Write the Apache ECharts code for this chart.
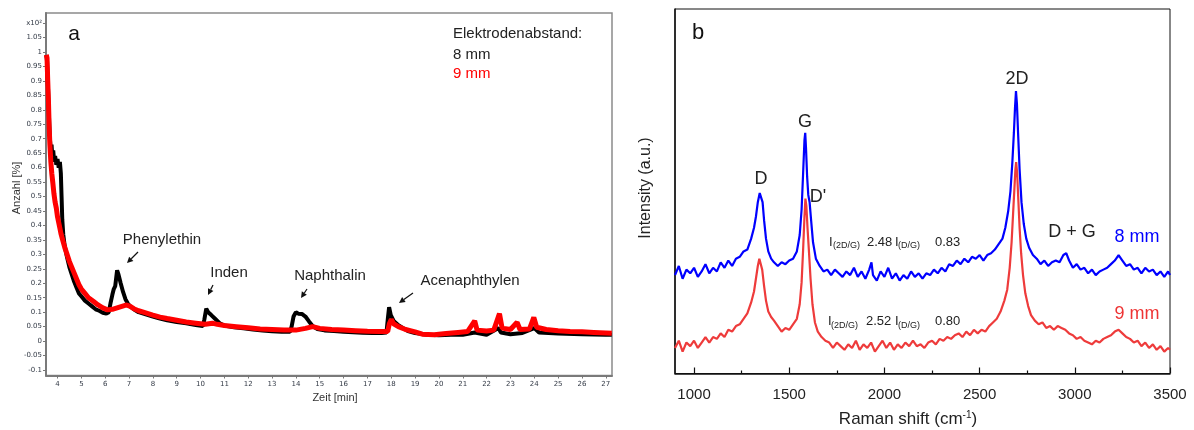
<!DOCTYPE html>
<html>
<head>
<meta charset="utf-8">
<script src="https://cdn.jsdelivr.net/npm/echarts@6/dist/echarts.min.js"></script>
<style>
  html, body { margin: 0; padding: 0; background: #fff; }
  #chart { width: 1194px; height: 430px; }
</style>
</head>
<body>
<div id="chart"></div>
<script>
// ---- panel a: GC counts over time, [min, count x10^2 %] ----
const time8mm = [
  [3.53, 0.99], [3.56, 0.97], [3.60, 0.88], [3.64, 0.78], [3.68, 0.70], [3.72, 0.66], [3.75, 0.68],
  [3.78, 0.64], [3.82, 0.66], [3.86, 0.62], [3.90, 0.64], [3.95, 0.61], [4.00, 0.63], [4.05, 0.60],
  [4.10, 0.62], [4.14, 0.58], [4.17, 0.50], [4.20, 0.42], [4.24, 0.37], [4.30, 0.33], [4.40, 0.29],
  [4.50, 0.255], [4.60, 0.23], [4.70, 0.205], [4.80, 0.185], [4.90, 0.165], [5.00, 0.155], [5.15, 0.14],
  [5.30, 0.13], [5.45, 0.12], [5.60, 0.11], [5.75, 0.105], [5.90, 0.098], [6.05, 0.095], [6.15, 0.10],
  [6.22, 0.13], [6.30, 0.16], [6.36, 0.18], [6.42, 0.19], [6.50, 0.245], [6.56, 0.23], [6.65, 0.20],
  [6.75, 0.17], [6.85, 0.145], [6.95, 0.13], [7.05, 0.12], [7.2, 0.11], [7.4, 0.10], [7.6, 0.095],
  [7.8, 0.09], [8.0, 0.085], [8.3, 0.078], [8.6, 0.072], [9.0, 0.066], [9.4, 0.062], [9.8, 0.056],
  [10.1, 0.052], [10.16, 0.075], [10.24, 0.112], [10.32, 0.10], [10.45, 0.09], [10.6, 0.078],
  [10.8, 0.062], [11.0, 0.054], [11.4, 0.048], [11.8, 0.044], [12.2, 0.04], [12.6, 0.037], [13.0, 0.034],
  [13.4, 0.032], [13.75, 0.032], [13.82, 0.05], [13.9, 0.085], [14.0, 0.10], [14.1, 0.095], [14.25, 0.094],
  [14.4, 0.085], [14.55, 0.068], [14.7, 0.052], [14.9, 0.042], [15.2, 0.037], [15.6, 0.035], [16.0, 0.032],
  [16.4, 0.031], [16.8, 0.029], [17.2, 0.028], [17.6, 0.028], [17.8, 0.03], [17.86, 0.08], [17.91, 0.117],
  [17.98, 0.09], [18.1, 0.07], [18.3, 0.055], [18.5, 0.045], [18.7, 0.035], [19.0, 0.028], [19.5, 0.022],
  [20.0, 0.02], [20.5, 0.022], [21.0, 0.022], [21.5, 0.03], [22.0, 0.022], [22.5, 0.045], [22.6, 0.03],
  [23.0, 0.024], [23.5, 0.028], [24.0, 0.045], [24.2, 0.03], [25.0, 0.026], [26.0, 0.024], [27.0, 0.022],
  [27.25, 0.022]
];
const time9mm = [
  [3.53, 0.99], [3.56, 0.98], [3.59, 0.90], [3.62, 0.83], [3.65, 0.74], [3.68, 0.68], [3.72, 0.62],
  [3.76, 0.58], [3.80, 0.55], [3.85, 0.51], [3.90, 0.48], [3.95, 0.46], [4.00, 0.43], [4.05, 0.41],
  [4.10, 0.39], [4.15, 0.37], [4.20, 0.355], [4.3, 0.325], [4.4, 0.30], [4.5, 0.275], [4.6, 0.255],
  [4.7, 0.235], [4.8, 0.215], [4.9, 0.195], [5.0, 0.18], [5.15, 0.165], [5.3, 0.15], [5.5, 0.138],
  [5.7, 0.125], [5.9, 0.115], [6.1, 0.108], [6.3, 0.11], [6.5, 0.115], [6.7, 0.12], [6.9, 0.125],
  [7.05, 0.12], [7.2, 0.112], [7.4, 0.105], [7.6, 0.10], [7.8, 0.095], [8.0, 0.09], [8.3, 0.083],
  [8.6, 0.078], [9.0, 0.072], [9.4, 0.066], [9.8, 0.062], [10.2, 0.058], [10.5, 0.062], [10.7, 0.058],
  [11.0, 0.054], [11.5, 0.05], [12.0, 0.046], [12.5, 0.042], [13.0, 0.04], [13.5, 0.038], [14.0, 0.038],
  [14.4, 0.044], [14.7, 0.05], [15.0, 0.044], [15.5, 0.04], [16.0, 0.038], [16.5, 0.036], [17.0, 0.034],
  [17.5, 0.033], [17.85, 0.033], [17.92, 0.06], [18.0, 0.075], [18.1, 0.06], [18.3, 0.05], [18.6, 0.04],
  [19.0, 0.032], [19.3, 0.024], [19.8, 0.022], [20.3, 0.026], [20.8, 0.03], [21.2, 0.033], [21.5, 0.07],
  [21.6, 0.038], [22.0, 0.035], [22.3, 0.038], [22.54, 0.095], [22.65, 0.045], [23.0, 0.04], [23.28, 0.065],
  [23.4, 0.04], [23.8, 0.042], [23.98, 0.082], [24.1, 0.048], [24.5, 0.04], [25.0, 0.036], [25.5, 0.033],
  [26.0, 0.032], [26.5, 0.03], [27.0, 0.028], [27.25, 0.027]
];
const timeTicks = [4, 5, 6, 7, 8, 9, 10, 11, 12, 13, 14, 15, 16, 17, 18, 19, 20, 21, 22, 23, 24, 25, 26, 27];
const countTicks = [-0.1, -0.05, 0, 0.05, 0.1, 0.15, 0.2, 0.25, 0.3, 0.35, 0.4, 0.45, 0.5, 0.55, 0.6,
  0.65, 0.7, 0.75, 0.8, 0.85, 0.9, 0.95, 1, 1.05, 1.1];

// ---- panel b: Raman spectra, [shift cm-1, intensity a.u.] ----
const raman8mm = [
  [900, 27], [920, 29.5], [940, 26], [960, 28.5], [980, 27.5], [1000, 29], [1020, 26.5], [1040, 28],
  [1060, 30], [1080, 27.5], [1100, 29], [1120, 28], [1140, 30.5], [1160, 29], [1180, 31], [1200, 29.5],
  [1220, 31.5], [1240, 32], [1260, 33.5], [1280, 34], [1300, 37], [1315, 40], [1325, 43], [1335, 47],
  [1345, 49.5], [1352, 50], [1360, 47], [1368, 42], [1378, 37], [1390, 33.5], [1405, 31.5], [1420, 30.5],
  [1440, 29.5], [1460, 30.5], [1480, 30], [1500, 31], [1520, 31.5], [1540, 33.5], [1555, 38], [1565, 45],
  [1573, 55], [1580, 64], [1584, 66], [1588, 62], [1594, 54], [1600, 49], [1607, 47], [1615, 42],
  [1625, 36], [1640, 31.5], [1660, 29.5], [1680, 28], [1700, 28.5], [1720, 27], [1740, 28.5], [1760, 27.5],
  [1780, 26.5], [1800, 28], [1820, 27], [1840, 29], [1860, 26.5], [1880, 28], [1900, 26], [1920, 28.5],
  [1932, 30.5], [1940, 27], [1960, 25.5], [1980, 28], [2000, 26.5], [2020, 29], [2040, 26], [2060, 27.5],
  [2080, 25.5], [2100, 27], [2120, 26], [2140, 28], [2160, 26.5], [2180, 27.5], [2200, 26], [2220, 27.5],
  [2240, 27], [2260, 28.5], [2280, 27.5], [2300, 29], [2320, 28], [2340, 30], [2360, 29.5], [2380, 31],
  [2400, 30], [2420, 31.5], [2440, 30.5], [2460, 32], [2480, 31.5], [2500, 32.5], [2520, 31], [2540, 32.5],
  [2560, 33], [2580, 34], [2600, 35.5], [2620, 37], [2635, 40], [2650, 44.5], [2662, 50], [2672, 58],
  [2680, 66], [2686, 73], [2691, 77.5], [2696, 74], [2702, 66], [2710, 56], [2720, 47], [2732, 41],
  [2745, 37], [2760, 34.5], [2780, 32.5], [2800, 31.5], [2820, 30], [2840, 31], [2860, 29.5], [2880, 30.5],
  [2900, 31], [2920, 30.5], [2940, 32.5], [2955, 33], [2970, 31], [2990, 29], [3010, 30], [3030, 28.5],
  [3050, 29], [3070, 27.5], [3090, 28.5], [3110, 27], [3130, 28], [3150, 28.5], [3170, 29], [3190, 30],
  [3210, 31], [3230, 32.5], [3250, 31], [3270, 29.5], [3290, 30], [3310, 28.5], [3330, 29], [3350, 27.5],
  [3370, 29], [3390, 28], [3410, 28.5], [3430, 27], [3450, 28], [3470, 26.5], [3490, 28], [3500, 27]
];
const raman9mm = [
  [900, 7], [920, 9], [940, 6], [960, 8.5], [980, 7.5], [1000, 9], [1020, 7], [1040, 8.5], [1060, 10],
  [1080, 8.5], [1100, 10], [1120, 9.5], [1140, 11], [1160, 10], [1180, 12], [1200, 11.5], [1220, 13],
  [1240, 13.5], [1260, 15], [1280, 16.5], [1300, 19.5], [1315, 22.5], [1325, 26], [1335, 29.5],
  [1343, 31.5], [1350, 31], [1358, 28.5], [1368, 24], [1378, 20], [1390, 17], [1405, 15.5], [1420, 14.5],
  [1440, 13], [1460, 11.5], [1480, 12.5], [1500, 12], [1520, 13.5], [1540, 15], [1555, 19], [1565, 25],
  [1573, 34], [1580, 43], [1585, 48], [1590, 46], [1596, 40], [1603, 34], [1612, 26], [1622, 19],
  [1635, 14], [1650, 11.5], [1670, 10], [1690, 9], [1710, 8.5], [1730, 7], [1750, 8.5], [1770, 7.5],
  [1790, 6.5], [1810, 8], [1830, 7], [1850, 9], [1870, 6.5], [1890, 8], [1910, 7], [1930, 8.5], [1950, 6],
  [1970, 7.5], [1990, 9], [2010, 7], [2030, 8.5], [2050, 6.5], [2070, 8], [2090, 7], [2110, 8.5],
  [2130, 7.5], [2150, 9], [2170, 7.5], [2190, 8], [2210, 7], [2230, 8.5], [2250, 9], [2270, 8], [2290, 9.5],
  [2310, 9], [2330, 10], [2350, 9.5], [2370, 10.5], [2390, 11], [2410, 10], [2430, 11.5], [2450, 10.5],
  [2470, 12], [2490, 11], [2510, 12], [2530, 11.5], [2550, 13], [2570, 14], [2590, 15], [2610, 17],
  [2630, 20], [2645, 23], [2658, 29], [2668, 36], [2676, 44], [2683, 51], [2688, 56], [2692, 58],
  [2697, 55], [2703, 48], [2710, 40], [2718, 33], [2728, 27], [2740, 22], [2755, 18.5], [2770, 16],
  [2790, 14.5], [2810, 13.5], [2830, 14], [2850, 12.5], [2870, 13], [2890, 12], [2910, 13], [2930, 12.5],
  [2950, 12], [2970, 11], [2990, 10.5], [3010, 9.5], [3030, 10], [3050, 9], [3070, 8.5], [3090, 8],
  [3110, 9], [3130, 8.5], [3150, 9.5], [3170, 10], [3190, 10.5], [3210, 11.5], [3230, 12], [3250, 11],
  [3270, 10], [3290, 9.5], [3310, 8.5], [3330, 9], [3350, 7.5], [3370, 8.5], [3390, 7], [3410, 8],
  [3430, 6.5], [3450, 7.5], [3470, 6], [3490, 7], [3500, 6.5]
];
const shiftTicks = [1000, 1500, 2000, 2500, 3000, 3500];
const shiftMinorTicks = [1250, 1750, 2250, 2750, 3250];

const FONT = '"Liberation Sans", Arial, sans-serif';

function txt(text, x, y, size, color, align) {
  return {
    type: 'text', x: x, y: y, silent: true,
    style: { text: text, fontFamily: FONT, fontSize: size, fill: color || '#222',
      align: align || 'center', verticalAlign: 'middle' }
  };
}

// small annotation arrow, head at (x2, y2)
function arrow(x1, y1, x2, y2) {
  const a = Math.atan2(y2 - y1, x2 - x1);
  const len = 6, w = 3;
  const bx = x2 - len * Math.cos(a), by = y2 - len * Math.sin(a);
  return [
    { type: 'line', silent: true, shape: { x1: x1, y1: y1, x2: bx, y2: by }, style: { stroke: '#111', lineWidth: 1.2 } },
    { type: 'polygon', silent: true,
      shape: { points: [[x2, y2], [bx + w * Math.sin(a), by - w * Math.cos(a)], [bx - w * Math.sin(a), by + w * Math.cos(a)]] },
      style: { fill: '#111' } }
  ];
}

const chart = echarts.init(document.getElementById('chart'), null, { renderer: 'canvas' });

const graphics = [
  txt('a', 74, 34, 21, '#111'),
  txt('Elektrodenabstand:', 453, 34, 15, '#222', 'left'),
  txt('8 mm', 453, 55, 15, '#222', 'left'),
  txt('9 mm', 453, 74, 15, '#ff0000', 'left'),
  txt('Phenylethin', 162, 240, 15, '#222'),
  txt('Inden', 229, 273, 15, '#222'),
  txt('Naphthalin', 330, 276, 15, '#222'),
  txt('Acenaphthylen', 470, 281, 15, '#222'),
  Object.assign(txt('Anzahl [%]', 17, 188, 11, '#333'), { rotation: Math.PI / 2 }),
  txt('Zeit [min]', 335, 398, 11, '#333'),

  txt('b', 698, 33, 22, '#111'),
  txt('D', 761, 179, 18, '#222'),
  txt('G', 805, 122, 18, '#222'),
  txt("D'", 818, 197, 18, '#222'),
  txt('2D', 1017, 79, 18, '#222'),
  txt('D + G', 1072, 232, 18, '#222'),
  txt('8 mm', 1137, 237, 18, '#0000ff'),
  txt('9 mm', 1137, 314, 18, '#ee3333'),
  txt('I', 829, 242, 13, '#222', 'left'),
  txt('(2D/G)', 833, 246, 9, '#222', 'left'),
  txt('2.48', 867, 242, 13, '#222', 'left'),
  txt('I', 895, 242, 13, '#222', 'left'),
  txt('(D/G)', 898, 246, 9, '#222', 'left'),
  txt('0.83', 935, 242, 13, '#222', 'left'),
  txt('I', 828, 321, 13, '#222', 'left'),
  txt('(2D/G)', 831, 326, 9, '#222', 'left'),
  txt('2.52', 866, 321, 13, '#222', 'left'),
  txt('I', 895, 321, 13, '#222', 'left'),
  txt('(D/G)', 898, 326, 9, '#222', 'left'),
  txt('0.80', 935, 321, 13, '#222', 'left'),
  Object.assign(txt('Intensity (a.u.)', 646, 188, 16, '#222'), { rotation: Math.PI / 2 }),
  {
    type: 'text', x: 908, y: 419, silent: true,
    style: {
      text: '{t|Raman shift (cm}{s|-1}{t|)}', align: 'center', verticalAlign: 'middle',
      rich: {
        t: { fontFamily: FONT, fontSize: 17, fill: '#222', verticalAlign: 'bottom' },
        s: { fontFamily: FONT, fontSize: 10, fill: '#222', verticalAlign: 'top' }
      }
    }
  }
].concat(
  arrow(138, 252, 127, 263),
  arrow(213, 285, 208, 295),
  arrow(307, 289, 301, 298),
  arrow(413, 293, 399, 303)
);

const grayAxis = { show: true, onZero: false, lineStyle: { color: '#7a7a7a', width: 2 } };
const smallLabel = { fontFamily: 'Tahoma, "DejaVu Sans", sans-serif', fontSize: 7, color: '#333a46' };

chart.setOption({
  animation: false,
  backgroundColor: '#fff',
  grid: [
    { left: 46, right: 582, top: 13, bottom: 54.5, show: true, borderColor: '#8a8a8a', borderWidth: 1.5 },
    { left: 675, right: 24, top: 9, bottom: 56.5, show: true, borderColor: '#111', borderWidth: 1 }
  ],
  xAxis: [
    {
      gridIndex: 0, type: 'value', min: 3.517, max: 27.26,
      axisLine: grayAxis,
      axisTick: { show: true, length: 3, customValues: timeTicks, lineStyle: { color: '#777' } },
      axisLabel: Object.assign({ customValues: timeTicks, margin: 5 }, smallLabel),
      splitLine: { show: false }
    },
    {
      gridIndex: 1, type: 'value', min: 900, max: 3500, position: 'bottom',
      axisLine: { show: true, onZero: false, lineStyle: { color: '#111', width: 1.5 } },
      axisTick: { show: true, inside: true, length: 6, customValues: shiftTicks, lineStyle: { color: '#111', width: 1.2 } },
      axisLabel: { customValues: shiftTicks, margin: 14, fontFamily: FONT, fontSize: 15, color: '#222',
        formatter: v => String(v) },
      splitLine: { show: false }
    },
    {
      gridIndex: 1, type: 'value', min: 900, max: 3500, position: 'bottom',
      axisLine: { show: false, onZero: false },
      axisTick: { show: true, inside: true, length: 3, customValues: shiftMinorTicks, lineStyle: { color: '#111', width: 1.2 } },
      axisLabel: { show: false },
      splitLine: { show: false }
    }
  ],
  yAxis: [
    {
      gridIndex: 0, type: 'value', min: -0.119, max: 1.135,
      axisLine: grayAxis,
      axisTick: { show: true, length: 3, customValues: countTicks, lineStyle: { color: '#777' } },
      axisLabel: Object.assign({
        customValues: countTicks, margin: 4,
        formatter: v => Math.abs(v - 1.1) < 1e-6 ? 'x10²' : String(+v.toFixed(2))
      }, smallLabel),
      splitLine: { show: false }
    },
    {
      gridIndex: 1, type: 'value', min: 0, max: 100,
      axisLine: { show: true, onZero: false, lineStyle: { color: '#111', width: 1.5 } },
      axisTick: { show: false }, axisLabel: { show: false }, splitLine: { show: false }
    }
  ],
  series: [
    { name: '8 mm', type: 'line', xAxisIndex: 0, yAxisIndex: 0, data: time8mm, showSymbol: false,
      lineStyle: { color: '#000', width: 4 }, z: 2 },
    { name: '9 mm', type: 'line', xAxisIndex: 0, yAxisIndex: 0, data: time9mm, showSymbol: false,
      lineStyle: { color: '#ff0000', width: 5 }, z: 3 },
    { name: '8 mm Raman', type: 'line', xAxisIndex: 1, yAxisIndex: 1, data: raman8mm, showSymbol: false,
      lineStyle: { color: '#0000ff', width: 2.2 }, z: 2 },
    { name: '9 mm Raman', type: 'line', xAxisIndex: 1, yAxisIndex: 1, data: raman9mm, showSymbol: false,
      lineStyle: { color: '#ee3b3b', width: 2.2 }, z: 3 }
  ],
  graphic: graphics
});
</script>
</body>
</html>
